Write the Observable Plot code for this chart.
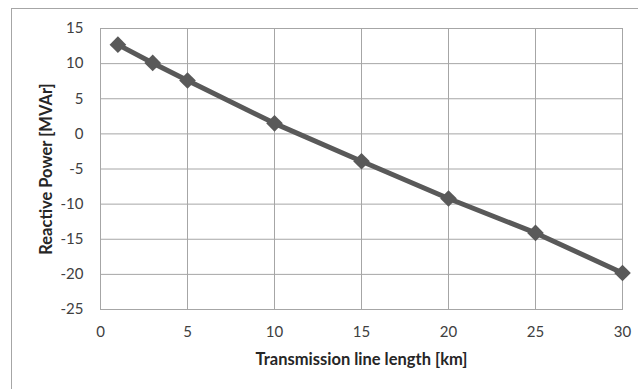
<!DOCTYPE html>
<html><head><meta charset="utf-8">
<script src="https://cdn.jsdelivr.net/npm/d3@7"></script>
<script src="https://cdn.jsdelivr.net/npm/@observablehq/plot@0.6"></script>
<style>
html,body{margin:0;padding:0;background:#fff;}
#wrap{position:relative;width:638px;height:389px;overflow:hidden;}
#border{position:absolute;left:11px;top:8px;width:640px;height:400px;border:1.5px solid #a6a6a6;box-sizing:border-box;}
#chart{position:absolute;left:0;top:0;}
</style></head>
<body>
<div id="wrap"><div id="border"></div><div id="chart"></div></div>
<script>
const lengths = [1, 3, 5, 10, 15, 20, 25, 30];
const reactive = [12.7, 10.1, 7.6, 1.5, -3.9, -9.2, -14.1, -19.8];
const xTicks = [0, 5, 10, 15, 20, 25, 30];
const yTicks = [15, 10, 5, 0, -5, -10, -15, -20, -25];
const data = lengths.map((x, i) => ({x, y: reactive[i]}));

const plot = Plot.plot({
  width: 638, height: 389,
  marginLeft: 100, marginRight: 16, marginTop: 28, marginBottom: 80,
  style: {fontFamily: "Lato, 'Open Sans', sans-serif", fontSize: "15px", color: "#404040", background: "transparent", overflow: "visible"},
  x: {domain: [0, 30], ticks: xTicks, label: null},
  y: {domain: [-25, 15], ticks: yTicks, label: null},
  marks: [
    Plot.gridX(xTicks, {stroke: "#a6a6a6", strokeOpacity: 1, strokeWidth: 1}),
    Plot.gridY(yTicks, {stroke: "#a6a6a6", strokeOpacity: 1, strokeWidth: 1}),
    Plot.frame({stroke: "#a6a6a6", strokeWidth: 1}),
    Plot.axisX(xTicks, {tickSize: 0, tickPadding: 17, fontSize: 15, fill: "#404040", tickFormat: d => String(d)}),
    Plot.axisY(yTicks, {tickSize: 0, tickPadding: 17, fontSize: 15, fill: "#404040", tickFormat: d => String(d)}),
    Plot.line(data, {x: "x", y: "y", stroke: "#595959", strokeWidth: 5, style: "filter: drop-shadow(1px 2px 2px rgba(0,0,0,0.35))"}),
    Plot.dot(data, {x: "x", y: "y", symbol: "diamond2", r: 7.5, fill: "#595959", stroke: "none", style: "filter: drop-shadow(1px 2px 2px rgba(0,0,0,0.35))"}),
    Plot.text(["Transmission line length [km]"], {frameAnchor: "bottom", lineAnchor: "middle", dy: 50, text: d => d, fontWeight: "bold", fontSize: 16.5, fill: "#262626"}),
    Plot.text(["Reactive Power [MVAr]"], {frameAnchor: "left", textAnchor: "middle", lineAnchor: "middle", dx: -54, dy: 0, rotate: -90, text: d => d, fontWeight: "bold", fontSize: 16.5, fill: "#262626"})
  ]
});
document.getElementById("chart").appendChild(plot);
</script>
</body></html>
